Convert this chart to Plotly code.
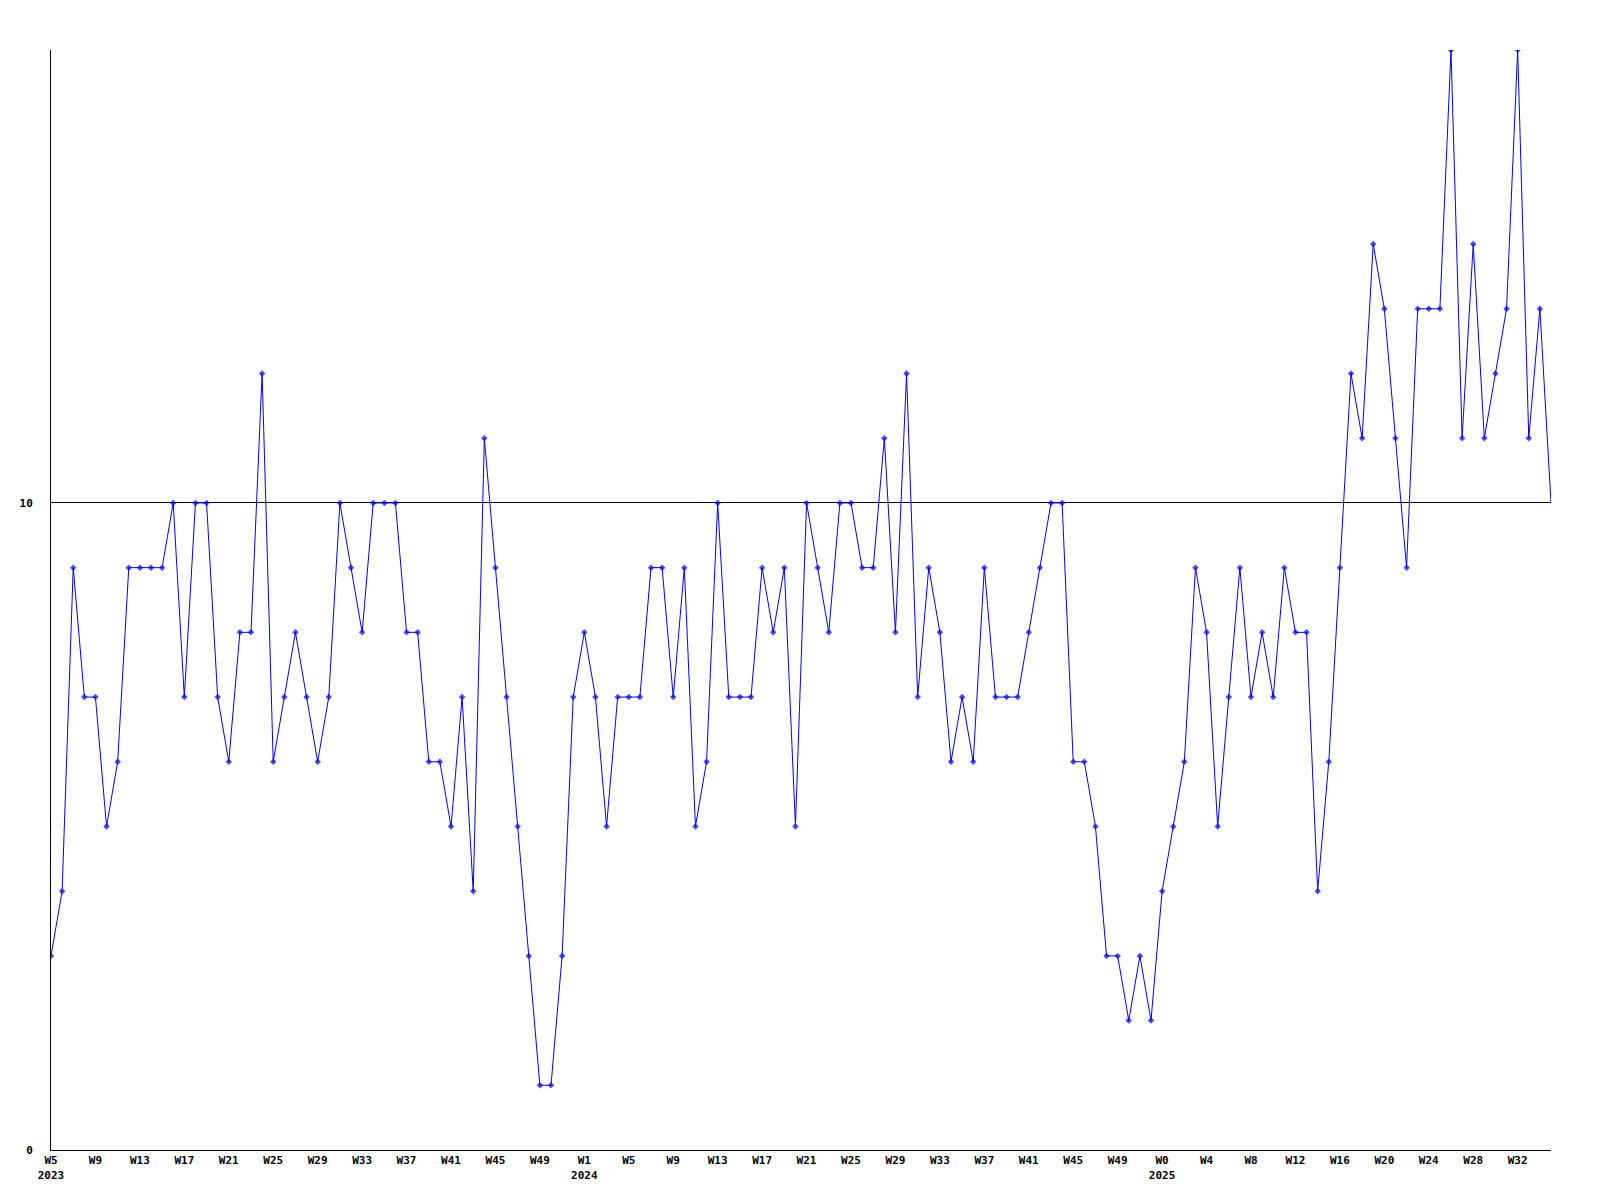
import plotly.graph_objects as go

# week labels (index 0 = 2023 W5)
weeks_2023 = [f"W{w}" for w in range(5, 53)]
weeks_2024 = [f"W{w}" for w in range(1, 53)]
weeks_2025 = [f"W{w}" for w in range(0, 36)]
week_labels = weeks_2023 + weeks_2024 + weeks_2025
year_starts = {0: "2023", 48: "2024", 100: "2025"}

values = [
    3, 4, 9, 7, 7, 5, 6, 9, 9, 9, 9, 10, 7, 10, 10, 7, 6, 8, 8, 12,
    6, 7, 8, 7, 6, 7, 10, 9, 8, 10, 10, 10, 8, 8, 6, 6, 5, 7, 4, 11,
    9, 7, 5, 3, 1, 1, 3, 7, 8, 7, 5, 7, 7, 7, 9, 9, 7, 9, 5, 6,
    10, 7, 7, 7, 9, 8, 9, 5, 10, 9, 8, 10, 10, 9, 9, 11, 8, 12, 7, 9,
    8, 6, 7, 6, 9, 7, 7, 7, 8, 9, 10, 10, 6, 6, 5, 3, 3, 2, 3, 2,
    4, 5, 6, 9, 8, 5, 7, 9, 7, 8, 7, 9, 8, 8, 4, 6, 9, 12, 11, 14,
    13, 11, 9, 13, 13, 13, 17, 11, 14, 11, 12, 13, 17, 11, 13, 10,
]

x_idx = list(range(len(values)))
tick_idx = list(range(0, len(values), 4))
tick_text = []
for i in tick_idx:
    t = week_labels[i]
    if i in year_starts:
        t += "<br>" + year_starts[i]
    tick_text.append(t)

marker_sizes = [5] * (len(values) - 1) + [0]

fig = go.Figure()
fig.add_trace(go.Scatter(
    x=x_idx, y=values, mode="lines+markers",
    line=dict(color="#0000ff", width=1),
    marker=dict(color="#0000ff", size=marker_sizes, symbol="diamond", line=dict(width=0)),
    hoverinfo="skip", showlegend=False,
))

fig.update_layout(
    width=1600, height=1200,
    margin=dict(l=51, r=49, t=50, b=50),
    paper_bgcolor="white", plot_bgcolor="white",
    font=dict(family="DejaVu Sans Mono", size=11, color="black"),
    xaxis=dict(
        range=[0, len(values) - 1], tickmode="array", tickvals=tick_idx, ticktext=tick_text,
        showgrid=False, zeroline=False, showline=True, linecolor="black", linewidth=1,
        ticks="", tickfont=dict(family="DejaVu Sans Mono", size=11, weight="bold"),
    ),
    yaxis=dict(
        range=[0, 17], tickmode="array", tickvals=[0, 10], ticktext=["0", "10"],
        showgrid=True, gridcolor="black", gridwidth=1, zeroline=False,
        showline=True, linecolor="black", linewidth=1, ticks="",
        ticklabelstandoff=15,
        tickfont=dict(family="DejaVu Sans Mono", size=11, weight="bold"),
    ),
)

fig.write_html(
    "out.html",
    config={"displayModeBar": False},
    post_script="document.body.style.margin='0';document.body.style.overflow='hidden';",
)
